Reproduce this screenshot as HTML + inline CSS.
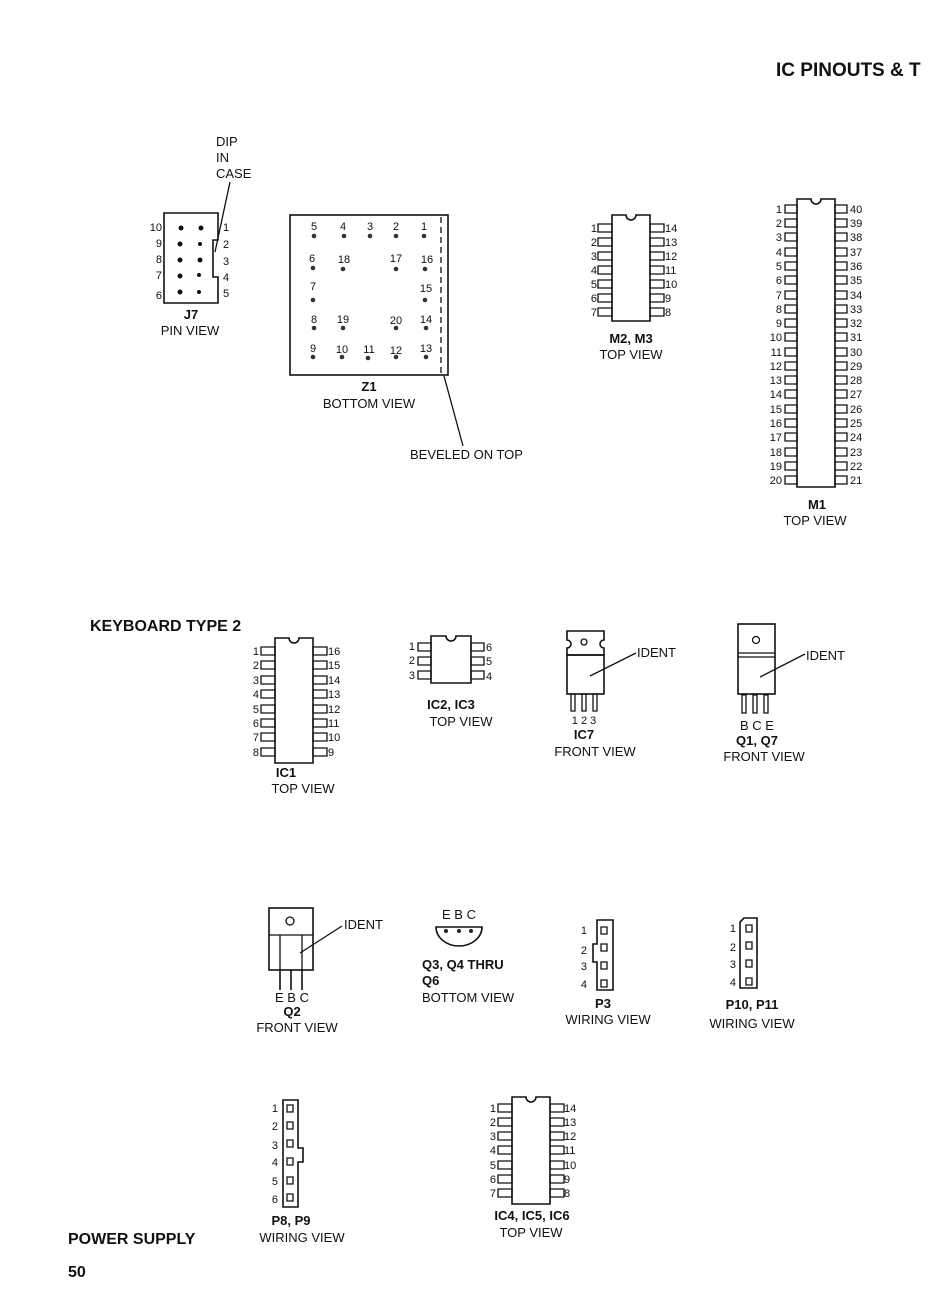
<!DOCTYPE html>
<html><head><meta charset="utf-8"><style>
html,body{margin:0;padding:0;background:#fff}
svg{display:block}
text{font-family:"Liberation Sans Narrow","Liberation Sans",sans-serif;font-size:13px;fill:#111}
.b{font-weight:bold}
.h{font-family:"Liberation Sans",sans-serif;font-weight:bold;font-size:16px}
.e{text-anchor:end}.m{text-anchor:middle}
.s{font-size:11px}
</style></head><body>
<svg width="938" height="1315" viewBox="0 0 938 1315" stroke="#111" stroke-width="1.3" fill="none">
<g stroke="none">
<text class="h" x="776" y="76" style="font-size:19px">IC PINOUTS &amp; T</text>
<text class="h" x="90" y="631">KEYBOARD TYPE 2</text>
<text class="h" x="68" y="1244">POWER SUPPLY</text>
<text class="h" x="68" y="1277">50</text>
</g>

<!-- J7 -->
<path d="M164 213H218V240H213V277H218V303H164Z" stroke-width="1.6"/>
<g fill="#111" stroke="none">
<circle cx="181" cy="228" r="2.5"/><circle cx="201" cy="228" r="2.5"/>
<circle cx="180" cy="244" r="2.5"/><circle cx="200" cy="244" r="2"/>
<circle cx="180" cy="260" r="2.5"/><circle cx="200" cy="260" r="2.5"/>
<circle cx="180" cy="276" r="2.5"/><circle cx="199" cy="275" r="2"/>
<circle cx="180" cy="292" r="2.5"/><circle cx="199" cy="292" r="2"/>
</g>
<path d="M230 182L215 252"/>
<g stroke="none">
<text x="216" y="146">DIP</text><text x="216" y="162">IN</text><text x="216" y="178">CASE</text>
<text class="e s" x="162" y="231">10</text><text class="e s" x="162" y="247">9</text><text class="e s" x="162" y="263">8</text><text class="e s" x="162" y="279">7</text><text class="e s" x="162" y="299">6</text>
<text class="s" x="223" y="231">1</text><text class="s" x="223" y="248">2</text><text class="s" x="223" y="265">3</text><text class="s" x="223" y="281">4</text><text class="s" x="223" y="297">5</text>
<text class="b m" x="191" y="319">J7</text><text class="m" x="190" y="335">PIN VIEW</text>
</g>

<!-- Z1 -->
<rect x="290" y="215" width="158" height="160" stroke-width="1.6"/>
<path d="M441 217V374" stroke-dasharray="6,4"/>
<path d="M444 376L463 446"/>
<g fill="#333" stroke="none">
<circle cx="314" cy="236" r="2.3"/><circle cx="344" cy="236" r="2.3"/><circle cx="370" cy="236" r="2.3"/><circle cx="396" cy="236" r="2.3"/><circle cx="424" cy="236" r="2.3"/>
<circle cx="313" cy="268" r="2.3"/><circle cx="343" cy="269" r="2.3"/><circle cx="396" cy="269" r="2.3"/><circle cx="425" cy="269" r="2.3"/>
<circle cx="313" cy="300" r="2.3"/><circle cx="425" cy="300" r="2.3"/>
<circle cx="314" cy="328" r="2.3"/><circle cx="343" cy="328" r="2.3"/><circle cx="396" cy="328" r="2.3"/><circle cx="426" cy="328" r="2.3"/>
<circle cx="313" cy="357" r="2.3"/><circle cx="342" cy="357" r="2.3"/><circle cx="368" cy="358" r="2.3"/><circle cx="396" cy="357" r="2.3"/><circle cx="426" cy="357" r="2.3"/>
</g>
<g stroke="none" class="s">
<text class="m s" x="314" y="230">5</text><text class="m s" x="343" y="230">4</text><text class="m s" x="370" y="230">3</text><text class="m s" x="396" y="230">2</text><text class="m s" x="424" y="230">1</text>
<text class="m s" x="312" y="262">6</text><text class="m s" x="344" y="263">18</text><text class="m s" x="396" y="262">17</text><text class="m s" x="427" y="263">16</text>
<text class="m s" x="313" y="290">7</text><text class="m s" x="426" y="292">15</text>
<text class="m s" x="314" y="323">8</text><text class="m s" x="343" y="323">19</text><text class="m s" x="396" y="324">20</text><text class="m s" x="426" y="323">14</text>
<text class="m s" x="313" y="352">9</text><text class="m s" x="342" y="353">10</text><text class="m s" x="369" y="353">11</text><text class="m s" x="396" y="354">12</text><text class="m s" x="426" y="352">13</text>
<text class="b m" x="369" y="391">Z1</text><text class="m" x="369" y="408">BOTTOM VIEW</text>
<text x="410" y="459">BEVELED ON TOP</text>
</g>

<!-- M2,M3 -->
<path d="M612 215H626A5 5 0 0 0 636 215H650V321H612Z" stroke-width="1.6"/>
<path d="M598 224h14v8h-14zM598 238h14v8h-14zM598 252h14v8h-14zM598 266h14v8h-14zM598 280h14v8h-14zM598 294h14v8h-14zM598 308h14v8h-14zM650 224h14v8h-14zM650 238h14v8h-14zM650 252h14v8h-14zM650 266h14v8h-14zM650 280h14v8h-14zM650 294h14v8h-14zM650 308h14v8h-14z"/>
<g stroke="none">
<text class="e s" x="597" y="232">1</text><text class="e s" x="597" y="246">2</text><text class="e s" x="597" y="260">3</text><text class="e s" x="597" y="274">4</text><text class="e s" x="597" y="288">5</text><text class="e s" x="597" y="302">6</text><text class="e s" x="597" y="316">7</text>
<text class="s" x="665" y="232">14</text><text class="s" x="665" y="246">13</text><text class="s" x="665" y="260">12</text><text class="s" x="665" y="274">11</text><text class="s" x="665" y="288">10</text><text class="s" x="665" y="302">9</text><text class="s" x="665" y="316">8</text>
<text class="b m" x="631" y="343">M2, M3</text><text class="m" x="631" y="359">TOP VIEW</text>
</g>

<!-- M1 -->
<path d="M797 199H811A5 5 0 0 0 821 199H835V487H797Z" stroke-width="1.6"/>
<path d="M785 205h12v8h-12zM785 219h12v8h-12zM785 233h12v8h-12zM785 248h12v8h-12zM785 262h12v8h-12zM785 276h12v8h-12zM785 291h12v8h-12zM785 305h12v8h-12zM785 319h12v8h-12zM785 333h12v8h-12zM785 348h12v8h-12zM785 362h12v8h-12zM785 376h12v8h-12zM785 390h12v8h-12zM785 405h12v8h-12zM785 419h12v8h-12zM785 433h12v8h-12zM785 448h12v8h-12zM785 462h12v8h-12zM785 476h12v8h-12z
M835 205h12v8h-12zM835 219h12v8h-12zM835 233h12v8h-12zM835 248h12v8h-12zM835 262h12v8h-12zM835 276h12v8h-12zM835 291h12v8h-12zM835 305h12v8h-12zM835 319h12v8h-12zM835 333h12v8h-12zM835 348h12v8h-12zM835 362h12v8h-12zM835 376h12v8h-12zM835 390h12v8h-12zM835 405h12v8h-12zM835 419h12v8h-12zM835 433h12v8h-12zM835 448h12v8h-12zM835 462h12v8h-12zM835 476h12v8h-12z"/>
<g stroke="none">
<text class="e s" x="782" y="213">1</text><text class="e s" x="782" y="227">2</text><text class="e s" x="782" y="241">3</text><text class="e s" x="782" y="256">4</text><text class="e s" x="782" y="270">5</text><text class="e s" x="782" y="284">6</text><text class="e s" x="782" y="299">7</text><text class="e s" x="782" y="313">8</text><text class="e s" x="782" y="327">9</text><text class="e s" x="782" y="341">10</text><text class="e s" x="782" y="356">11</text><text class="e s" x="782" y="370">12</text><text class="e s" x="782" y="384">13</text><text class="e s" x="782" y="398">14</text><text class="e s" x="782" y="413">15</text><text class="e s" x="782" y="427">16</text><text class="e s" x="782" y="441">17</text><text class="e s" x="782" y="456">18</text><text class="e s" x="782" y="470">19</text><text class="e s" x="782" y="484">20</text>
<text class="s" x="850" y="213">40</text><text class="s" x="850" y="227">39</text><text class="s" x="850" y="241">38</text><text class="s" x="850" y="256">37</text><text class="s" x="850" y="270">36</text><text class="s" x="850" y="284">35</text><text class="s" x="850" y="299">34</text><text class="s" x="850" y="313">33</text><text class="s" x="850" y="327">32</text><text class="s" x="850" y="341">31</text><text class="s" x="850" y="356">30</text><text class="s" x="850" y="370">29</text><text class="s" x="850" y="384">28</text><text class="s" x="850" y="398">27</text><text class="s" x="850" y="413">26</text><text class="s" x="850" y="427">25</text><text class="s" x="850" y="441">24</text><text class="s" x="850" y="456">23</text><text class="s" x="850" y="470">22</text><text class="s" x="850" y="484">21</text>
<text class="b m" x="817" y="509">M1</text><text class="m" x="815" y="525">TOP VIEW</text>
</g>

<!-- IC1 -->
<path d="M275 638H289A5 5 0 0 0 299 638H313V763H275Z" stroke-width="1.6"/>
<path d="M261 647h14v8h-14zM261 661h14v8h-14zM261 676h14v8h-14zM261 690h14v8h-14zM261 705h14v8h-14zM261 719h14v8h-14zM261 733h14v8h-14zM261 748h14v8h-14zM313 647h14v8h-14zM313 661h14v8h-14zM313 676h14v8h-14zM313 690h14v8h-14zM313 705h14v8h-14zM313 719h14v8h-14zM313 733h14v8h-14zM313 748h14v8h-14z"/>
<g stroke="none">
<text class="e s" x="259" y="655">1</text><text class="e s" x="259" y="669">2</text><text class="e s" x="259" y="684">3</text><text class="e s" x="259" y="698">4</text><text class="e s" x="259" y="713">5</text><text class="e s" x="259" y="727">6</text><text class="e s" x="259" y="741">7</text><text class="e s" x="259" y="756">8</text>
<text class="s" x="328" y="655">16</text><text class="s" x="328" y="669">15</text><text class="s" x="328" y="684">14</text><text class="s" x="328" y="698">13</text><text class="s" x="328" y="713">12</text><text class="s" x="328" y="727">11</text><text class="s" x="328" y="741">10</text><text class="s" x="328" y="756">9</text>
<text class="b m" x="286" y="777">IC1</text><text class="m" x="303" y="793">TOP VIEW</text>
</g>

<!-- IC2 IC3 -->
<path d="M431 636H446A5 5 0 0 0 456 636H471V683H431Z" stroke-width="1.6"/>
<path d="M418 643h13v8h-13zM418 657h13v8h-13zM418 671h13v8h-13zM471 643h13v8h-13zM471 657h13v8h-13zM471 671h13v8h-13z"/>
<g stroke="none">
<text class="e s" x="415" y="650">1</text><text class="e s" x="415" y="664">2</text><text class="e s" x="415" y="679">3</text>
<text class="s" x="486" y="651">6</text><text class="s" x="486" y="665">5</text><text class="s" x="486" y="680">4</text>
<text class="b m" x="451" y="709">IC2, IC3</text><text class="m" x="461" y="726">TOP VIEW</text>
</g>

<!-- IC7 -->
<path d="M567 631H604V640A4 4 0 0 0 604 648V655H567V648A4 4 0 0 0 567 640Z" stroke-width="1.6"/>
<circle cx="584" cy="642" r="3"/>
<rect x="567" y="655" width="37" height="39" stroke-width="1.6"/>
<path d="M571 694h4v17h-4zM582 694h4v17h-4zM593 694h4v17h-4z"/>
<path d="M590 676L636 653"/>
<g stroke="none">
<text x="637" y="657">IDENT</text>
<text class="m s" x="584" y="724">1 2 3</text>
<text class="b m" x="584" y="739">IC7</text><text class="m" x="595" y="756">FRONT VIEW</text>
</g>

<!-- Q1 Q7 -->
<rect x="738" y="624" width="37" height="70" stroke-width="1.6"/>
<path d="M738 653H775M738 657H775"/>
<circle cx="756" cy="640" r="3.5"/>
<path d="M742 695h4v18h-4zM753 695h4v18h-4zM764 695h4v18h-4z"/>
<path d="M760 677L805 654"/>
<g stroke="none">
<text x="806" y="660">IDENT</text>
<text class="m" x="757" y="730">B C E</text>
<text class="b m" x="757" y="745">Q1, Q7</text><text class="m" x="764" y="761">FRONT VIEW</text>
</g>

<!-- Q2 -->
<rect x="269" y="908" width="44" height="62" stroke-width="1.6"/>
<path d="M269 935H313M280 935V970M302 935V970"/>
<circle cx="290" cy="921" r="4"/>
<path d="M280 970V990M291 970V990M302 970V990" stroke-width="1.6"/>
<path d="M300 953L342 926"/>
<g stroke="none">
<text x="344" y="929">IDENT</text>
<text class="m" x="292" y="1002">E B C</text>
<text class="b m" x="292" y="1016">Q2</text><text class="m" x="297" y="1032">FRONT VIEW</text>
</g>

<!-- Q3 -->
<path d="M436 927H482A23 19 0 0 1 436 927Z" stroke-width="1.6"/>
<g fill="#222" stroke="none"><circle cx="446" cy="931" r="2"/><circle cx="459" cy="931" r="2"/><circle cx="471" cy="931" r="2"/></g>
<g stroke="none">
<text class="m" x="459" y="919">E B C</text>
<text class="b" x="422" y="969">Q3, Q4 THRU</text><text class="b" x="422" y="985">Q6</text>
<text x="422" y="1002">BOTTOM VIEW</text>
</g>

<!-- P3 -->
<path d="M597 920H613V990H597V962H593V944H597Z" stroke-width="1.6"/>
<path d="M601 927h6v7h-6zM601 944h6v7h-6zM601 962h6v7h-6zM601 980h6v7h-6z"/>
<g stroke="none">
<text class="e s" x="587" y="934">1</text><text class="e s" x="587" y="954">2</text><text class="e s" x="587" y="970">3</text><text class="e s" x="587" y="988">4</text>
<text class="b m" x="603" y="1008">P3</text><text class="m" x="608" y="1024">WIRING VIEW</text>
</g>

<!-- P10 P11 -->
<path d="M744 918H757V988H740V922Z" stroke-width="1.6"/>
<path d="M746 925h6v7h-6zM746 942h6v7h-6zM746 960h6v7h-6zM746 978h6v7h-6z"/>
<g stroke="none">
<text class="e s" x="736" y="932">1</text><text class="e s" x="736" y="951">2</text><text class="e s" x="736" y="968">3</text><text class="e s" x="736" y="986">4</text>
<text class="b m" x="752" y="1009">P10, P11</text><text class="m" x="752" y="1028">WIRING VIEW</text>
</g>

<!-- P8 P9 -->
<path d="M283 1100H298V1148H303V1162H298V1207H283Z" stroke-width="1.6"/>
<path d="M287 1105h6v7h-6zM287 1122h6v7h-6zM287 1140h6v7h-6zM287 1158h6v7h-6zM287 1177h6v7h-6zM287 1194h6v7h-6z"/>
<g stroke="none">
<text class="e s" x="278" y="1112">1</text><text class="e s" x="278" y="1130">2</text><text class="e s" x="278" y="1149">3</text><text class="e s" x="278" y="1166">4</text><text class="e s" x="278" y="1185">5</text><text class="e s" x="278" y="1203">6</text>
<text class="b m" x="291" y="1225">P8, P9</text><text class="m" x="302" y="1242">WIRING VIEW</text>
</g>

<!-- IC4 IC5 IC6 -->
<path d="M512 1097H526A5 5 0 0 0 536 1097H550V1204H512Z" stroke-width="1.6"/>
<path d="M498 1104h14v8h-14zM498 1118h14v8h-14zM498 1132h14v8h-14zM498 1146h14v8h-14zM498 1161h14v8h-14zM498 1175h14v8h-14zM498 1189h14v8h-14zM550 1104h14v8h-14zM550 1118h14v8h-14zM550 1132h14v8h-14zM550 1146h14v8h-14zM550 1161h14v8h-14zM550 1175h14v8h-14zM550 1189h14v8h-14z"/>
<g stroke="none">
<text class="e s" x="496" y="1112">1</text><text class="e s" x="496" y="1126">2</text><text class="e s" x="496" y="1140">3</text><text class="e s" x="496" y="1154">4</text><text class="e s" x="496" y="1169">5</text><text class="e s" x="496" y="1183">6</text><text class="e s" x="496" y="1197">7</text>
<text class="s" x="564" y="1112">14</text><text class="s" x="564" y="1126">13</text><text class="s" x="564" y="1140">12</text><text class="s" x="564" y="1154">11</text><text class="s" x="564" y="1169">10</text><text class="s" x="564" y="1183">9</text><text class="s" x="564" y="1197">8</text>
<text class="b m" x="532" y="1220">IC4, IC5, IC6</text><text class="m" x="531" y="1237">TOP VIEW</text>
</g>
</svg>
</body></html>
